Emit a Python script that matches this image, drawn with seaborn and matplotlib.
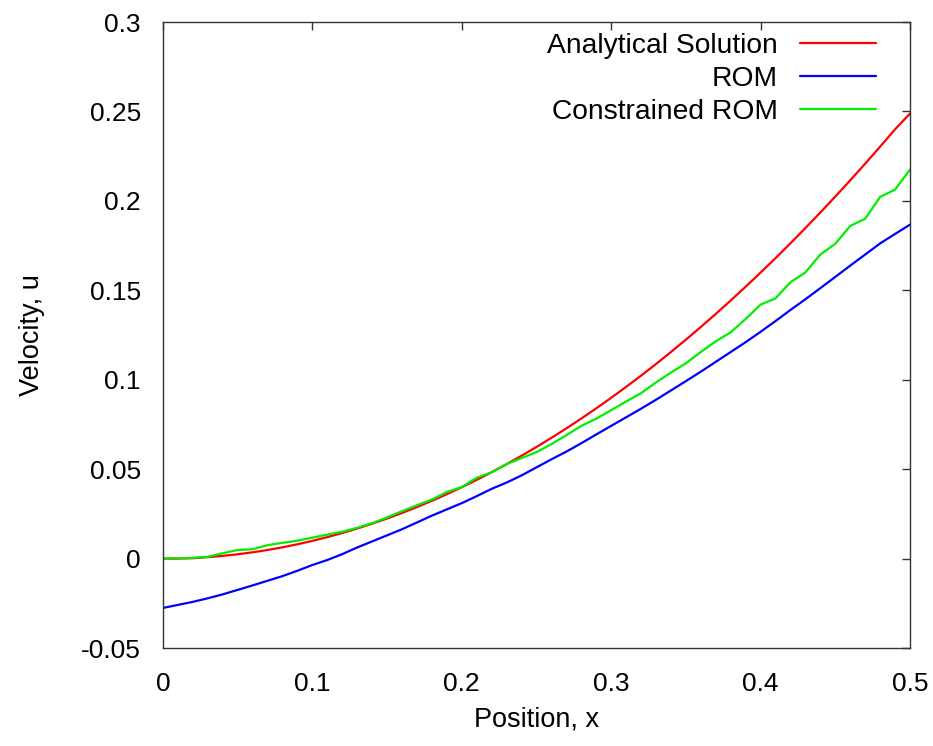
import numpy as np
import pandas as pd
import matplotlib
matplotlib.use("Agg")
import matplotlib.pyplot as plt
import seaborn as sns

# ---- data ----
x = [round(0.01 * i, 2) for i in range(51)]

analytical = [0.0000, 0.0000, 0.0002, 0.0008, 0.0015, 0.0024, 0.0035, 0.0048, 0.0063, 0.0080,
              0.0099, 0.0120, 0.0143, 0.0168, 0.0195, 0.0224, 0.0255, 0.0288, 0.0323, 0.0360,
              0.0399, 0.0440, 0.0483, 0.0528, 0.0575, 0.0624, 0.0675, 0.0728, 0.0783, 0.0840,
              0.0899, 0.0960, 0.1023, 0.1088, 0.1155, 0.1224, 0.1295, 0.1368, 0.1443, 0.1520,
              0.1599, 0.1680, 0.1763, 0.1848, 0.1935, 0.2024, 0.2115, 0.2208, 0.2303, 0.2400,
              0.2488]

rom = [-0.0276, -0.0259, -0.0242, -0.0222, -0.0200, -0.0175, -0.0150, -0.0124, -0.0098, -0.0068,
       -0.0036, -0.0008, 0.0025, 0.0062, 0.0096, 0.0130, 0.0164, 0.0202, 0.0240, 0.0275,
       0.0310, 0.0349, 0.0390, 0.0425, 0.0465, 0.0510, 0.0555, 0.0598, 0.0645, 0.0694,
       0.0742, 0.0790, 0.0838, 0.0888, 0.0940, 0.0992, 0.1045, 0.1100, 0.1155, 0.1210,
       0.1268, 0.1328, 0.1390, 0.1450, 0.1512, 0.1575, 0.1638, 0.1700, 0.1762, 0.1815,
       0.1867]

constrained = [0.0000, 0.0002, 0.0004, 0.0010, 0.0030, 0.0048, 0.0052, 0.0075, 0.0088, 0.0100,
               0.0117, 0.0134, 0.0150, 0.0172, 0.0198, 0.0230, 0.0265, 0.0298, 0.0330, 0.0372,
               0.0400, 0.0452, 0.0482, 0.0528, 0.0562, 0.0595, 0.0640, 0.0690, 0.0742, 0.0782,
               0.0830, 0.0878, 0.0925, 0.0985, 0.1040, 0.1092, 0.1155, 0.1215, 0.1265, 0.1340,
               0.1420, 0.1455, 0.1545, 0.1600, 0.1700, 0.1760, 0.1860, 0.1900, 0.2022, 0.2063,
               0.2175]

series_names = ["Analytical Solution", "ROM", "Constrained ROM"]
series_colors = ["#ff0000", "#0000ff", "#00ee00"]

x_ticks = [0, 0.1, 0.2, 0.3, 0.4, 0.5]
x_tick_labels = ["0", "0.1", "0.2", "0.3", "0.4", "0.5"]
y_ticks = [-0.05, 0, 0.05, 0.1, 0.15, 0.2, 0.25, 0.3]
y_tick_labels = ["-0.05", "0", "0.05", "0.1", "0.15", "0.2", "0.25", "0.3"]

x_label = "Position, x"
y_label = "Velocity, u"

# ---- long-form table ----
df = pd.concat([
    pd.DataFrame({"x": x, "u": analytical, "series": series_names[0]}),
    pd.DataFrame({"x": x, "u": rom, "series": series_names[1]}),
    pd.DataFrame({"x": x, "u": constrained, "series": series_names[2]}),
], ignore_index=True)

sns.set_theme(style="white")
plt.rcParams["font.family"] = ["Liberation Sans", "DejaVu Sans"]
plt.rcParams["text.color"] = "black"

fig = plt.figure(figsize=(9.33, 7.46), dpi=100)
ax = fig.add_axes([163 / 933, 1 - 648 / 746, (910 - 163) / 933, (648 - 22) / 746])

sns.lineplot(data=df, x="x", y="u", hue="series", hue_order=series_names,
             palette=dict(zip(series_names, series_colors)), linewidth=1.6,
             ax=ax, legend=False, sort=False)

ax.set_xlim(0, 0.5)
ax.set_ylim(-0.05, 0.3)
ax.set_xticks(x_ticks)
ax.set_xticklabels(x_tick_labels)
ax.set_yticks(y_ticks)
ax.set_yticklabels(y_tick_labels)

ax.tick_params(axis="both", which="major", direction="in", length=6, width=1,
               color="#333333", labelsize=19, top=True, right=True,
               labelcolor="black")
ax.tick_params(axis="x", pad=17)
ax.tick_params(axis="y", pad=16)
for sp in ax.spines.values():
    sp.set_visible(True)
    sp.set_color("#333333")
    sp.set_linewidth(1.0)

ax.set_xlabel(x_label, fontsize=19.5, color="black")
ax.set_ylabel(y_label, fontsize=19.5, color="black")
ax.xaxis.set_label_coords(0.5, -(707 - 648) / 626)
ax.yaxis.set_label_coords((45 - 163) / 747, 0.5)

handles = [plt.Line2D([], [], color=c, linewidth=1.6) for c in series_colors]
leg = ax.legend(handles, series_names, loc="upper right",
                bbox_to_anchor=((876 - 163) / 747, (648 - 33) / 626),
                frameon=False, markerfirst=False, fontsize=20.3,
                handlelength=2.7, handletextpad=0.78, labelspacing=0.24,
                borderpad=0, borderaxespad=0, labelcolor="black")

fig.savefig("out.png", dpi=100, facecolor="white")
